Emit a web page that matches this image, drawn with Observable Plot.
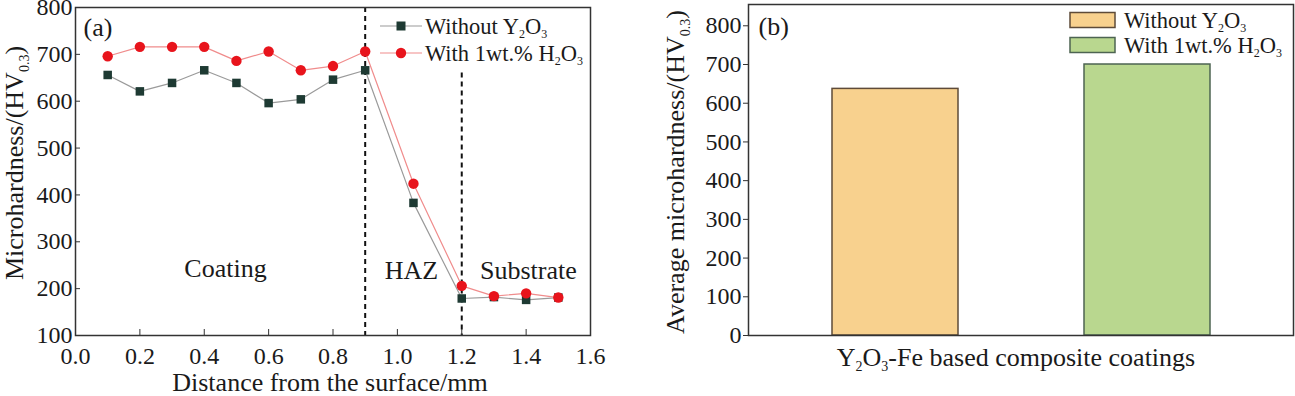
<!DOCTYPE html>
<html><head><meta charset="utf-8">
<script src="https://cdn.jsdelivr.net/npm/d3@7"></script>
<script src="https://cdn.jsdelivr.net/npm/@observablehq/plot@0.6"></script>
<style>
body{margin:0;background:#fff;}
#wrap{display:flex;width:1295px;height:396px;}
svg{font-family:"Liberation Serif","Times New Roman",serif;}
</style></head><body><div id="wrap"></div>
<script>
// ---- data ----
const distance = [0.1, 0.2, 0.3, 0.4, 0.5, 0.6, 0.7, 0.8, 0.9, 1.05, 1.2, 1.3, 1.4, 1.5];
const withoutY2O3 = [656, 621, 639, 666, 639, 596, 604, 646, 666, 383, 179, 182, 176, 181];
const with1wt = [696, 716, 716, 716, 686, 706, 666, 675, 706, 424, 206, 184, 190, 181];
const seriesNames = ["Without Y_2O_3", "With 1wt.% H_2O_3"];
const avgHardness = [637, 700];
const xTicksA = [0, 0.2, 0.4, 0.6, 0.8, 1.0, 1.2, 1.4, 1.6];
const yTicksA = [100, 200, 300, 400, 500, 600, 700, 800];
const yTicksB = [0, 100, 200, 300, 400, 500, 600, 700, 800];
const boundaries = [0.9, 1.2];
const regions = ["Coating", "HAZ", "Substrate"];
const regionX = [0.466, 1.044, 1.407];
const regionY = [243, 239, 239];

const FONT = '"Liberation Serif","Times New Roman",serif';
const INK = "#1a1a1a";
const TICKFS = 24;
const lineColors = ["#9a9a9a", "#f08c8c"];
const dotColors = ["#1e3a33", "#e8141c"];
const barFill = ["#f8d18e", "#b9d78f"];
const barStroke = ["#5e4b38", "#4d6452"];

function rich(sel, str, subSize, shift) {
  const parts = str.split(/(_\{[^}]*\}|_.)/).filter(s => s.length);
  let lowered = false;
  for (const p of parts) {
    if (p.startsWith("_")) {
      const t = p.startsWith("_{") ? p.slice(2, -1) : p.slice(1);
      sel.append("tspan").attr("font-size", subSize).attr("dy", lowered ? 0 : shift).text(t);
      lowered = true;
    } else {
      sel.append("tspan").attr("dy", lowered ? -shift : 0).text(p);
      lowered = false;
    }
  }
}

// ---- panel (a) ----
const rowsW = distance.map((x, i) => ({x, y: withoutY2O3[i]}));
const rowsR = distance.map((x, i) => ({x, y: with1wt[i]}));
const plotA = Plot.plot({
  width: 620, height: 396,
  marginLeft: 75, marginRight: 30, marginTop: 7, marginBottom: 61,
  style: {fontFamily: FONT, fontSize: TICKFS + "px", color: INK, background: "transparent", overflow: "visible"},
  x: {domain: [0, 1.6], label: null},
  y: {domain: [100, 800], label: null},
  marks: [
    Plot.ruleX([boundaries[0]], {stroke: "#111", strokeWidth: 2, strokeDasharray: "5,4"}),
    Plot.ruleX([boundaries[1]], {y1: 660, y2: 100, stroke: "#111", strokeWidth: 2, strokeDasharray: "5,4"}),
    Plot.line(rowsW, {x: "x", y: "y", stroke: lineColors[0], strokeWidth: 1.2}),
    Plot.line(rowsR, {x: "x", y: "y", stroke: lineColors[1], strokeWidth: 1.2}),
    Plot.dot(rowsW, {x: "x", y: "y", symbol: "square", r: 4.8, fill: dotColors[0], stroke: "none"}),
    Plot.dot(rowsR, {x: "x", y: "y", r: 5.2, fill: dotColors[1], stroke: "none"}),
    Plot.text(regions, {x: (d, i) => regionX[i], y: (d, i) => regionY[i], text: d => d, fontSize: 26, fill: INK}),
    Plot.text(["(a)"], {frameAnchor: "top-left", dx: 8, dy: 10, lineAnchor: "top", textAnchor: "start", fontSize: 26, fill: INK}),
    Plot.frame({stroke: "#333", strokeWidth: 1.5}),
    Plot.axisX(xTicksA, {tickSize: 0, tickPadding: 11, tickFormat: d3.format(".1f"), fill: INK, fontSize: TICKFS}),
    Plot.axisX(xTicksA, {tickSize: -6, tickFormat: () => "", stroke: "#333"}),
    Plot.axisY(yTicksA, {tickSize: 0, tickPadding: 3, fill: INK, fontSize: TICKFS}),
    Plot.axisY(yTicksA, {tickSize: -5, tickFormat: () => "", stroke: "#333"})
  ]
});
{
  const s = d3.select(plotA);
  const g = s.append("g").attr("font-family", FONT).attr("fill", INK).attr("text-anchor", "start");
  const yl = g.append("text").attr("transform", "translate(23,163) rotate(-90)")
    .attr("text-anchor", "middle").attr("font-size", 26);
  rich(yl, "Microhardness/(HV_{0.3})", 14, 6);
  g.append("text").attr("x", 330).attr("y", 391).attr("text-anchor", "middle")
    .attr("font-size", 26).text("Distance from the surface/mm");
  // legend
  const ly = [26, 53];
  seriesNames.forEach((name, i) => {
    g.append("line").attr("x1", 380).attr("x2", 422).attr("y1", ly[i]).attr("y2", ly[i])
      .attr("stroke", lineColors[i]).attr("stroke-width", 1.2);
    if (i === 0) g.append("rect").attr("x", 401 - 4.5).attr("y", ly[i] - 4.5).attr("width", 9).attr("height", 9).attr("fill", dotColors[i]);
    else g.append("circle").attr("cx", 401).attr("cy", ly[i]).attr("r", 5.2).attr("fill", dotColors[i]);
    const t = g.append("text").attr("x", 425).attr("y", ly[i] + 8).attr("font-size", 22.5).attr("text-anchor", "start");
    rich(t, name, 12, 4);
  });
}

// ---- panel (b) ----
const plotB = Plot.plot({
  width: 675, height: 396,
  marginLeft: 128, marginRight: 2, marginTop: 4, marginBottom: 61,
  style: {fontFamily: FONT, fontSize: TICKFS + "px", color: INK, background: "transparent", overflow: "visible"},
  x: {type: "band", domain: seriesNames, paddingInner: 0.5, paddingOuter: 0.33, axis: null},
  y: {domain: [0, 855], label: null},
  marks: [
    Plot.barY([seriesNames[0]], {x: d => d, y: () => avgHardness[0], fill: barFill[0], stroke: barStroke[0], strokeWidth: 1.5}),
    Plot.barY([seriesNames[1]], {x: d => d, y: () => avgHardness[1], fill: barFill[1], stroke: barStroke[1], strokeWidth: 1.5}),
    Plot.text(["(b)"], {frameAnchor: "top-left", dx: 10, dy: 12, lineAnchor: "top", textAnchor: "start", fontSize: 26, fill: INK}),
    Plot.frame({stroke: "#333", strokeWidth: 1.5}),
    Plot.axisY(yTicksB, {tickSize: 5, tickPadding: 2, fill: INK, stroke: "#333", fontSize: TICKFS})
  ]
});
{
  const s = d3.select(plotB);
  const g = s.append("g").attr("font-family", FONT).attr("fill", INK).attr("text-anchor", "start");
  const yl = g.append("text").attr("transform", "translate(64,172) rotate(-90)")
    .attr("text-anchor", "middle").attr("font-size", 26);
  rich(yl, "Average microhardness/(HV_{0.3})", 14, 6);
  const xl = g.append("text").attr("x", 396).attr("y", 366).attr("text-anchor", "middle").attr("font-size", 26);
  rich(xl, "Y_2O_3-Fe based composite coatings", 14, 5);
  const ly = [20, 45];
  seriesNames.forEach((name, i) => {
    g.append("rect").attr("x", 450).attr("y", ly[i] - 7.5).attr("width", 45).attr("height", 15)
      .attr("fill", barFill[i]).attr("stroke", barStroke[i]).attr("stroke-width", 1.5);
    const t = g.append("text").attr("x", 504).attr("y", ly[i] + 8).attr("font-size", 22.5).attr("text-anchor", "start");
    rich(t, name, 12, 4);
  });
}

document.getElementById("wrap").append(plotA, plotB);
</script>
</body></html>
